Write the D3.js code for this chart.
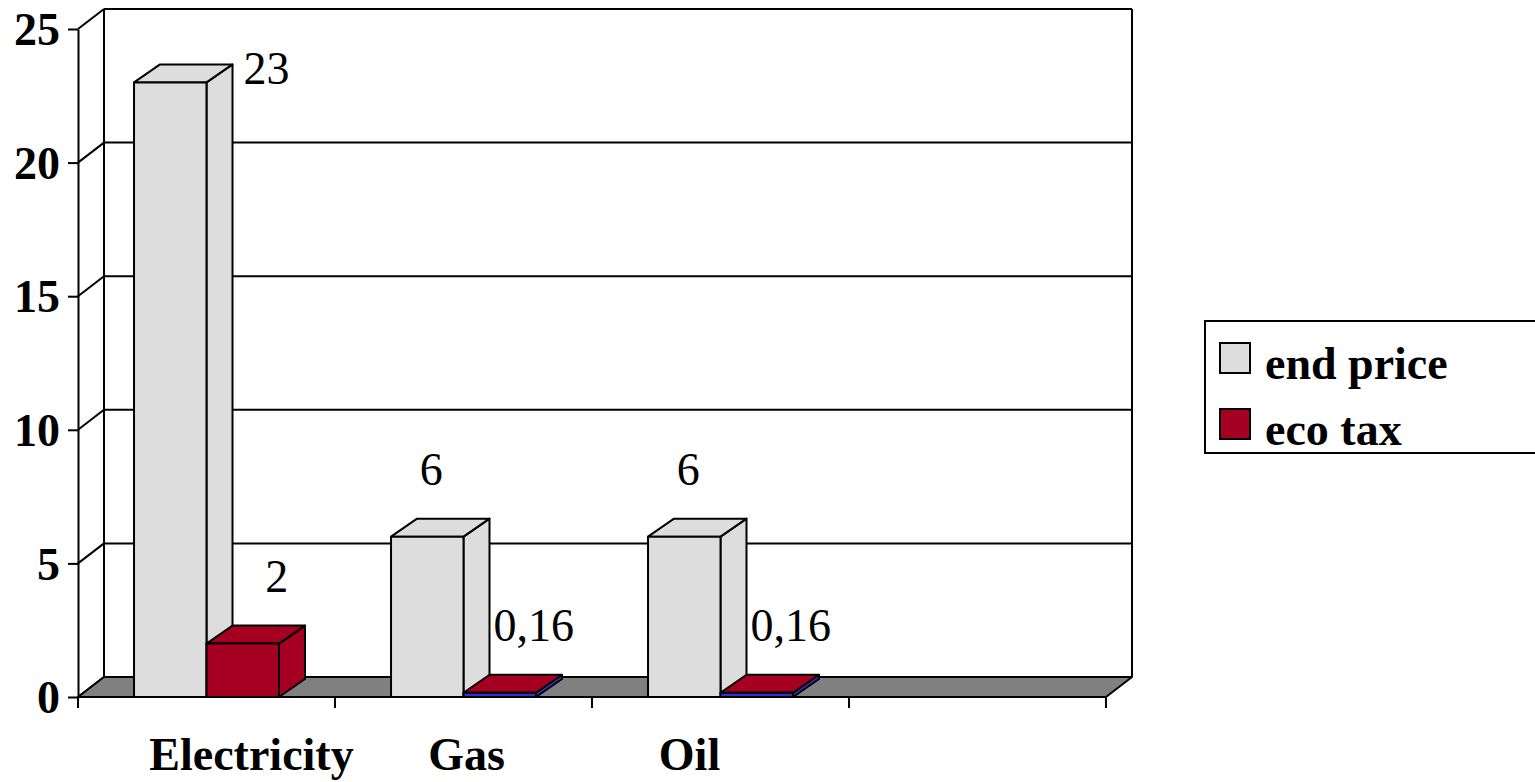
<!DOCTYPE html>
<html>
<head>
<meta charset="utf-8">
<script src="https://cdn.jsdelivr.net/npm/d3@7"></script>
<style>
  body { margin: 0; background: #fff; }
  svg { display: block; }
</style>
</head>
<body>
<div id="chart"></div>
<script>
// chart data
var categories = ["Electricity", "Gas", "Oil", ""];
var seriesNames = ["end price", "eco tax"];
var endPrice = [23, 6, 6, null];
var ecoTax = [2, 0.16, 0.16, null];
var yTicks = [0, 5, 10, 15, 20, 25];

var width = 1535,
	height = 782,
	plot = {left: 78, right: 1106, top: 29, bottom: 697},
	wall = {dx: 26, dy: -20},
	depth = {dx: 26, dy: -18},
	font = "'Liberation Serif', 'Times New Roman', serif",
	colors = ["#dddddd", "#a50021"],
	labelNudge = [4, 34],          // value label shift per series
	catNudge = [45, 3, -31, 0];    // category label shift, as Excel placed them

var locale = d3.formatLocale({decimal: ",", thousands: ".", grouping: [3], currency: ["", ""]});
var fmt = locale.format("~g");

var svg = d3.select("#chart")
	.append("svg")
	.attr("width", width)
	.attr("height", height);

var xScale0 = d3.scaleBand().domain(categories).range([plot.left, plot.right]).padding(0);
var xScale1 = d3.scaleBand().domain(seriesNames)
	.range([xScale0.bandwidth() * 0.218, xScale0.bandwidth() * 0.782]);
var yScale = d3.scaleLinear().domain([0, 25]).range([plot.bottom, plot.top]);

// back wall grid lines
svg.append("g").selectAll("line")
	.data(yTicks)
	.enter().append("line")
	.attr("x1", plot.left + wall.dx)
	.attr("x2", plot.right + wall.dx)
	.attr("y1", d => yScale(d) + wall.dy)
	.attr("y2", d => yScale(d) + wall.dy)
	.attr("stroke", "#000")
	.attr("stroke-width", 2);

// side wall lines from the axis to the back wall
svg.append("g").selectAll("line")
	.data(yTicks)
	.enter().append("line")
	.attr("x1", plot.left)
	.attr("x2", plot.left + wall.dx)
	.attr("y1", d => yScale(d))
	.attr("y2", d => yScale(d) + wall.dy)
	.attr("stroke", "#000")
	.attr("stroke-width", 2);

// back wall verticals
[plot.left + wall.dx, plot.right + wall.dx].forEach(function(x) {
	svg.append("line")
		.attr("x1", x).attr("x2", x)
		.attr("y1", yScale(25) + wall.dy)
		.attr("y2", yScale(0) + wall.dy)
		.attr("stroke", "#000")
		.attr("stroke-width", 2);
});

// floor
var y0 = yScale(0);
svg.append("path")
	.attr("d", `M${plot.left},${y0} L${plot.left + wall.dx},${y0 + wall.dy} L${plot.right + wall.dx},${y0 + wall.dy} L${plot.right},${y0} Z`)
	.attr("fill", "#808080")
	.attr("stroke", "#000")
	.attr("stroke-width", 2)
	.attr("stroke-linejoin", "round");

// bars
var rows = [];
categories.forEach(function(c, i) {
	[endPrice[i], ecoTax[i]].forEach(function(v, s) {
		if (v != null) rows.push({cat: c, series: seriesNames[s], s: s, value: v});
	});
});

var bars = svg.append("g").selectAll(".bar")
	.data(rows)
	.enter().append("g")
	.attr("class", "bar");

function faceColor(d) {
	var h = y0 - yScale(d.value);
	return h < 6 && d.s == 1 ? "#3333cc" : colors[d.s];
}

bars.each(function(d) {
	var g = d3.select(this);
	var x = xScale0(d.cat) + xScale1(d.series);
	var w = xScale1.bandwidth();
	var yv = yScale(d.value);

	g.append("path")
		.attr("d", `M${x + w},${yv} L${x + w + depth.dx},${yv + depth.dy} L${x + w + depth.dx},${y0 + depth.dy} L${x + w},${y0} Z`)
		.attr("fill", faceColor(d));
	g.append("path")
		.attr("d", `M${x},${yv} L${x + depth.dx},${yv + depth.dy} L${x + w + depth.dx},${yv + depth.dy} L${x + w},${yv} Z`)
		.attr("fill", colors[d.s]);
	g.append("rect")
		.attr("x", x)
		.attr("y", yv)
		.attr("width", w)
		.attr("height", y0 - yv)
		.attr("fill", faceColor(d));
	g.selectAll("*")
		.attr("stroke", "#000")
		.attr("stroke-width", 2)
		.attr("stroke-linejoin", "round");

	// value label
	var label = g.append("text")
		.style("font-family", font)
		.style("font-size", "46px")
		.text(fmt(d.value));
	if (yv - 84 < plot.top) {
		label.attr("x", x + w + depth.dx + 11)
			.attr("y", yv + 2)
			.attr("text-anchor", "start");
	} else {
		label.attr("x", x + w / 2 + labelNudge[d.s])
			.attr("y", yv - 52)
			.attr("text-anchor", "middle");
	}
});

// Y axis
var yAxis = d3.axisLeft(yScale).tickValues(yTicks).tickSize(10).tickSizeOuter(0).tickPadding(8);
var yG = svg.append("g")
	.attr("transform", `translate(${plot.left},0)`)
	.call(yAxis);
yG.select(".domain").attr("stroke-width", 2);
yG.selectAll(".tick line").attr("stroke-width", 2);
yG.selectAll(".tick text")
	.style("font-family", font)
	.style("font-size", "46px")
	.style("font-weight", "bold")
	.attr("fill", "#000")
	.attr("dy", "0.34em");

// category axis line and boundary ticks
svg.append("line")
	.attr("x1", plot.left).attr("x2", plot.right)
	.attr("y1", y0).attr("y2", y0)
	.attr("stroke", "#000").attr("stroke-width", 2);

var edges = categories.map(c => xScale0(c)).concat([plot.right]);
svg.append("g").selectAll("line")
	.data(edges)
	.enter().append("line")
	.attr("x1", d => d).attr("x2", d => d)
	.attr("y1", y0).attr("y2", y0 + 11)
	.attr("stroke", "#000")
	.attr("stroke-width", 2);

svg.append("g").selectAll("text")
	.data(categories)
	.enter().append("text")
	.attr("x", (d, i) => xScale0(d) + xScale0.bandwidth() / 2 + catNudge[i])
	.attr("y", 770)
	.attr("text-anchor", "middle")
	.style("font-family", font)
	.style("font-size", "46px")
	.style("font-weight", "bold")
	.text(d => d);

// legend
var legend = svg.append("g").attr("transform", "translate(1205,321)");
legend.append("rect")
	.attr("width", 345)
	.attr("height", 132)
	.attr("fill", "#fff")
	.attr("stroke", "#000")
	.attr("stroke-width", 2);
var item = legend.selectAll(".item")
	.data(seriesNames)
	.enter().append("g")
	.attr("class", "item")
	.attr("transform", (d, i) => `translate(15,${22 + i * 66})`);
item.append("rect")
	.attr("width", 30)
	.attr("height", 30)
	.attr("fill", (d, i) => colors[i])
	.attr("stroke", "#000")
	.attr("stroke-width", 2);
item.append("text")
	.attr("x", 45)
	.attr("y", 36)
	.style("font-family", font)
	.style("font-size", "46px")
	.style("font-weight", "bold")
	.text(d => d);
</script>
</body>
</html>
